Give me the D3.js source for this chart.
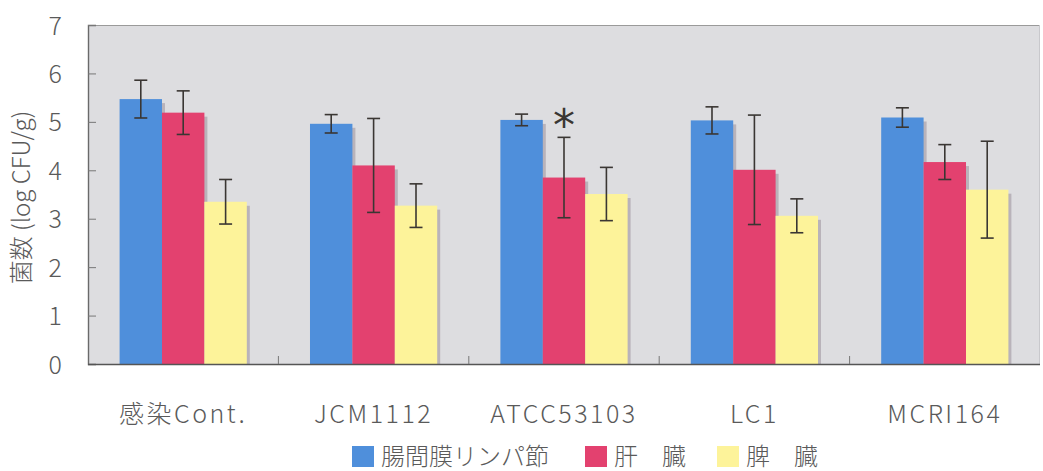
<!DOCTYPE html>
<html>
<head>
<meta charset="utf-8">
<script src="https://cdn.jsdelivr.net/npm/d3@7"></script>
<style>
  html, body { margin: 0; padding: 0; background: #fff; }
  svg { display: block; }
  text { font-family: "Noto Sans CJK JP", "Noto Sans", sans-serif; font-weight: 300; fill: #5a5a5a; }
</style>
</head>
<body>
<svg id="chart" width="1043" height="471"></svg>
<script>
// Groups (strains) and organs
const categories = ["感染Cont.", "JCM1112", "ATCC53103", "LC1", "MCRI164"];
const seriesNames = ["腸間膜リンパ節", "肝　臓", "脾　臓"];

// Mean bacterial count (log CFU/g) per organ, in category order
const mlnMean    = [5.47, 4.96, 5.04, 5.03, 5.09];
const liverMean  = [5.19, 4.10, 3.85, 4.01, 4.17];
const spleenMean = [3.35, 3.27, 3.51, 3.06, 3.60];

// Standard deviation for each bar
const mlnSD    = [0.39, 0.19, 0.12, 0.28, 0.20];
const liverSD  = [0.45, 0.97, 0.83, 1.13, 0.36];
const spleenSD = [0.46, 0.45, 0.55, 0.35, 1.00];

// Significance markers: [category, series index]
const significant = [["ATCC53103", 1]];

const yTicks = [0, 1, 2, 3, 4, 5, 6, 7];

const colors = ["#4f8fdb", "#e3416f", "#fdf39a"];

const means = [mlnMean, liverMean, spleenMean];
const sds = [mlnSD, liverSD, spleenSD];
const rows = [];
categories.forEach((c, i) => {
  seriesNames.forEach((s, k) => {
    rows.push({ cat: c, k, mean: means[k][i], sd: sds[k][i] });
  });
});

const svg = d3.select("#chart");
const margin = { left: 88, right: 2, top: 25, bottom: 107 };
const W = 1043, H = 471;
const x0 = margin.left, x1 = W - margin.right - 1;
const yTop = margin.top, yBot = H - margin.bottom;

const x = d3.scaleBand().domain(categories).range([x0, x1]).paddingInner(0).paddingOuter(0);
const xs = d3.scaleBand().domain(d3.range(seriesNames.length))
  .range([0, x.bandwidth()]).paddingOuter(0.745).paddingInner(0);
const y = d3.scaleLinear().domain([0, 7]).range([yBot, yTop]);

// Plot background
svg.append("rect").attr("x", x0).attr("y", yTop)
  .attr("width", x1 - x0).attr("height", yBot - yTop)
  .attr("fill", "#dddde0");

// Frame: top and right light, left and bottom darker
svg.append("line").attr("x1", x0).attr("x2", x1).attr("y1", yTop + 0.5).attr("y2", yTop + 0.5)
  .attr("stroke", "#9a9a9a").attr("stroke-width", 1.2);
svg.append("line").attr("x1", x1 - 0.5).attr("x2", x1 - 0.5).attr("y1", yTop).attr("y2", yBot)
  .attr("stroke", "#c8c8cc").attr("stroke-width", 1);

// Bar shadows
const g = svg.append("g");
g.selectAll("rect.shadow").data(rows).join("rect")
  .attr("class", "shadow")
  .attr("x", d => x(d.cat) + xs(d.k) + 3)
  .attr("y", d => y(d.mean) + 4)
  .attr("width", xs.bandwidth())
  .attr("height", d => yBot - y(d.mean) - 4)
  .attr("fill", "#b9b3ba");

// Bars
g.selectAll("rect.bar").data(rows).join("rect")
  .attr("class", "bar")
  .attr("x", d => x(d.cat) + xs(d.k))
  .attr("y", d => y(d.mean))
  .attr("width", xs.bandwidth())
  .attr("height", d => yBot - y(d.mean))
  .attr("fill", d => colors[d.k]);

// Error bars
const eb = svg.append("g").attr("stroke", "#3a3633").attr("stroke-width", 1.6).attr("fill", "none");
rows.forEach(d => {
  const cx = x(d.cat) + xs(d.k) + xs.bandwidth() / 2;
  const hi = y(d.mean + d.sd), lo = y(d.mean - d.sd);
  const cap = 6.5;
  eb.append("line").attr("x1", cx).attr("x2", cx).attr("y1", hi).attr("y2", lo);
  eb.append("line").attr("x1", cx - cap).attr("x2", cx + cap).attr("y1", hi).attr("y2", hi);
  eb.append("line").attr("x1", cx - cap).attr("x2", cx + cap).attr("y1", lo).attr("y2", lo);
});

// Significance asterisks
significant.forEach(([c, k]) => {
  const i = categories.indexOf(c);
  const cx = x(c) + xs(k) + xs.bandwidth() / 2;
  const top = y(means[k][i] + sds[k][i]);
  svg.append("text").attr("x", cx).attr("y", top + 4)
    .attr("text-anchor", "middle")
    .style("font-family", "DejaVu Sans, sans-serif")
    .style("font-weight", "normal")
    .style("font-size", "44px").style("fill", "#3a3633")
    .text("*");
});

// Y axis: line, inward ticks, labels
const yAxis = d3.axisLeft(y).tickValues(yTicks).tickSize(-8).tickPadding(26).tickFormat(d3.format("d"));
const ya = svg.append("g").attr("transform", `translate(${x0},0)`).call(yAxis);
ya.select(".domain").attr("stroke", "#6a6a6a").attr("stroke-width", 1.4);
ya.selectAll(".tick line").attr("stroke", "#777").attr("stroke-width", 1);
ya.selectAll(".tick text").style("font-size", "25px").style("fill", "#5a5a5a")
  .style("font-family", "Noto Sans CJK JP, sans-serif").style("font-weight", "300")
  .attr("dy", "0.36em");

// X axis: baseline with inward ticks at group boundaries, labels centered
const xa = svg.append("g").attr("transform", `translate(0,${yBot})`);
xa.append("line").attr("x1", x0).attr("x2", x1).attr("y1", 0.5).attr("y2", 0.5)
  .attr("stroke", "#555").attr("stroke-width", 1.4);
categories.slice(1).forEach(c => {
  xa.append("line").attr("x1", x(c)).attr("x2", x(c)).attr("y1", 0).attr("y2", -8)
    .attr("stroke", "#777").attr("stroke-width", 1);
});
xa.selectAll("text.cat").data(categories).join("text")
  .attr("class", "cat")
  .attr("x", d => x(d) + x.bandwidth() / 2)
  .attr("y", 59)
  .attr("text-anchor", "middle")
  .style("font-size", "25px")
  .style("letter-spacing", "2.5px")
  .text(d => d);

// Y axis title
svg.append("text")
  .attr("transform", `translate(30,${(yTop + yBot) / 2 + 3}) rotate(-90)`)
  .attr("text-anchor", "middle")
  .style("font-size", "24px")
  .text("菌数 (log CFU/g)");

// Legend
const legendX = [352, 585, 717];
const lg = svg.append("g").attr("transform", "translate(0,446)");
seriesNames.forEach((s, k) => {
  lg.append("rect").attr("x", legendX[k]).attr("y", 0).attr("width", 22).attr("height", 21)
    .attr("fill", colors[k]);
  lg.append("text").attr("x", legendX[k] + 29).attr("y", 19)
    .style("font-size", "24px")
    .text(s);
});
</script>
</body>
</html>
